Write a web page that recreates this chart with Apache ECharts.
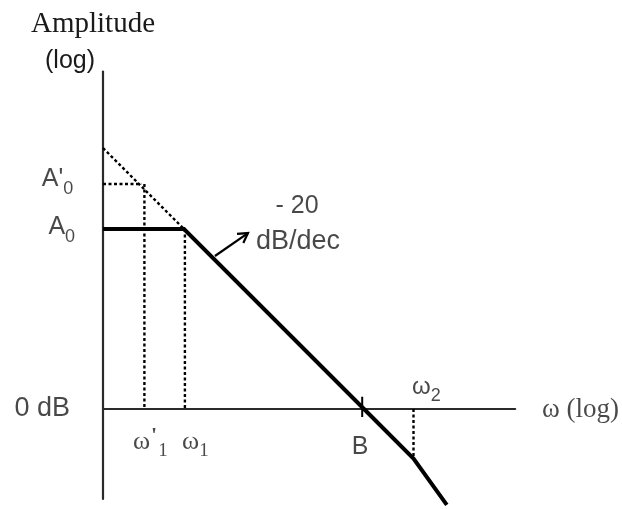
<!DOCTYPE html>
<html>
<head>
<meta charset="utf-8">
<script src="https://cdn.jsdelivr.net/npm/echarts@6/dist/echarts.min.js"></script>
<style>
  html, body { margin: 0; padding: 0; background: #fff; }
  #chart { width: 622px; height: 509px; }
</style>
</head>
<body>
<div id="chart"></div>
<script>
// Asymptotic Bode magnitude plot: x = log10(ω) (decades), y = gain in dB.
// One decade on x spans the same length as 20 dB on y, so -20 dB/dec is a 45° line.

// Corner points of the solid asymptote
const asymptoteLogW = [0, 0.9, 2.9, 3.45, 3.82];
const asymptoteGain = [40, 40, 0, -11, -21.3];

// Extension of the -20 dB/dec slope back to the vertical axis
const extensionLogW = [0, 0.9];
const extensionGain = [58, 40];

// Reference levels and frequencies
const gainA0 = 40;
const gainA0Prime = 50;
const logW1Prime = 0.46;
const logW1 = 0.91;
const logB = 2.88;
const logW2 = 3.45;
const gainAtW2 = -11;
const crossPointEnd = 0.43;

// Annotation labels: [logω, dB, text key]
const labelItems = [
  [-0.31, 40.4, 'A0'],
  [-0.33, 51, 'A0p'],
  [-0.367, 0, 'zero'],
  [0.333, -7.3, 'w1p'],
  [0.878, -7.3, 'w1'],
  [2.856, -8.4, 'B'],
  [3.433, 4.7, 'w2'],
  [4.878, -0.2, 'wlog'],
  [2.156, 45.1, 'm20'],
  [2.166, 37.3, 'dbdec']
];

// Arrow from the slope to its "-20 dB/dec" note
const slopeArrow = [[1.244, 34, 1.611, 39.1]];

const ink = '#000';
const textInk = '#1a1a1a';
const sans = 'Liberation Sans, Arial, sans-serif';
const serif = 'Liberation Serif, Times New Roman, serif';

const dotted = { color: ink, width: 2.4, type: [3, 2.5] };

function segment(xs, ys) {
  return xs.map((x, i) => [x, ys[i]]);
}

const labelFormats = {
  A0: { text: '{a|A}{s|0}', align: 'right' },
  A0p: { text: "{a|A'}{s|0}", align: 'right' },
  zero: { text: '{z|0 dB}', align: 'right' },
  w1p: { text: "{w|ω}{wp|'}{ws|1}", align: 'left' },
  w1: { text: '{w|ω}{ws|1}', align: 'left' },
  B: { text: '{a|B}', align: 'center' },
  w2: { text: '{w2|ω}{s2|2}', align: 'left' },
  wlog: { text: '{wl|ω (log)}', align: 'left' },
  m20: { text: '{a|- 20}', align: 'center' },
  dbdec: { text: '{d|dB/dec}', align: 'center' }
};

const rich = {
  a: { fontFamily: sans, fontSize: 25, color: textInk, lineHeight: 30 },
  z: { fontFamily: sans, fontSize: 27, color: textInk, lineHeight: 30 },
  d: { fontFamily: sans, fontSize: 27, color: textInk, lineHeight: 30 },
  s: { fontFamily: sans, fontSize: 18, color: textInk, lineHeight: 30, verticalAlign: 'bottom', padding: [0, 0, -4, 0] },
  w: { fontFamily: serif, fontSize: 26, color: textInk, lineHeight: 30 },
  wl: { fontFamily: serif, fontSize: 27, color: textInk, lineHeight: 30 },
  wp: { fontFamily: serif, fontSize: 22, fontWeight: 'bold', color: textInk, lineHeight: 30, verticalAlign: 'top', padding: [-2, 1, 0, 1] },
  ws: { fontFamily: serif, fontSize: 19, color: textInk, lineHeight: 30, verticalAlign: 'bottom', padding: [0, 0, -4, 0] },
  w2: { fontFamily: sans, fontSize: 24, color: textInk, lineHeight: 30 },
  s2: { fontFamily: sans, fontSize: 18, color: textInk, lineHeight: 30, verticalAlign: 'bottom', padding: [0, 0, -2, 0] }
};

const chart = echarts.init(document.getElementById('chart'), null, { renderer: 'canvas' });

chart.setOption({
  backgroundColor: '#fff',
  animation: false,
  grid: { left: 103, right: 106.8, top: 71.5, bottom: 10 },
  xAxis: {
    type: 'value', min: 0, max: 4.58,
    axisLine: { show: true, onZero: true, lineStyle: { color: '#2a2a2a', width: 2.2 } },
    axisTick: { show: false }, axisLabel: { show: false }, splitLine: { show: false }
  },
  yAxis: {
    type: 'value', min: -20, max: 75,
    axisLine: { show: true, onZero: false, lineStyle: { color: '#2a2a2a', width: 2.2 } },
    axisTick: { show: false }, axisLabel: { show: false }, splitLine: { show: false }
  },
  graphic: [
    { type: 'text', left: 31, top: 10, style: { text: 'Amplitude', font: '29px ' + serif, fill: textInk } },
    { type: 'text', left: 45, top: 49, style: { text: '(log)', font: '25px ' + sans, fill: textInk } }
  ],
  series: [
    { type: 'line', data: segment(extensionLogW, extensionGain), symbol: 'none', lineStyle: dotted, z: 3 },
    { type: 'line', data: [[0, gainA0Prime], [crossPointEnd, gainA0Prime]], symbol: 'none', lineStyle: dotted, z: 3 },
    { type: 'line', data: [[logW1Prime, gainA0Prime], [logW1Prime, 0]], symbol: 'none', lineStyle: dotted, z: 3 },
    { type: 'line', data: [[logW1, gainA0], [logW1, 0]], symbol: 'none', lineStyle: dotted, z: 3 },
    { type: 'line', data: [[logW2, 0], [logW2, gainAtW2]], symbol: 'none', lineStyle: dotted, z: 3 },
    { type: 'line', data: [[logB, 2.7], [logB, -1.8]], symbol: 'none', lineStyle: { color: ink, width: 2 }, z: 4 },
    {
      type: 'line', data: segment(asymptoteLogW, asymptoteGain), symbol: 'none', clip: false,
      lineStyle: { color: '#000', width: 4, join: 'miter' }, z: 5
    },
    {
      type: 'custom', data: slopeArrow, clip: false, z: 6,
      renderItem: function (params, api) {
        const p0 = api.coord([api.value(0), api.value(1)]);
        const p1 = api.coord([api.value(2), api.value(3)]);
        const ang = Math.atan2(p1[1] - p0[1], p1[0] - p0[0]);
        const len = 11, spread = Math.PI / 6;
        const h1 = [p1[0] - len * Math.cos(ang - spread), p1[1] - len * Math.sin(ang - spread)];
        const h2 = [p1[0] - len * Math.cos(ang + spread), p1[1] - len * Math.sin(ang + spread)];
        const st = { stroke: ink, lineWidth: 2.2, fill: null };
        return {
          type: 'group',
          children: [
            { type: 'line', shape: { x1: p0[0], y1: p0[1], x2: p1[0], y2: p1[1] }, style: st },
            { type: 'polyline', shape: { points: [h1, p1, h2] }, style: st }
          ]
        };
      }
    },
    {
      type: 'scatter', clip: false, symbolSize: 0, z: 7,
      data: labelItems.map(d => ({
        value: [d[0], d[1]], key: d[2],
        label: { align: labelFormats[d[2]].align, verticalAlign: 'middle' }
      })),
      label: {
        show: true, position: 'inside',
        formatter: p => labelFormats[p.data.key].text,
        rich: rich
      }
    }
  ]
});
</script>
</body>
</html>
